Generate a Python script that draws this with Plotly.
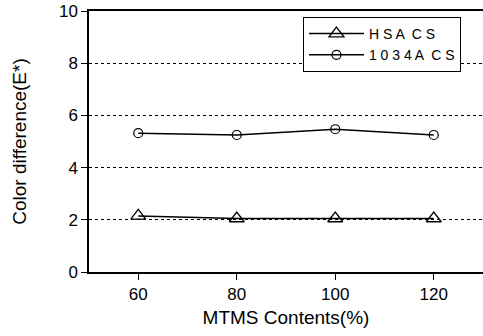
import plotly.graph_objects as go

mtms = [60, 80, 100, 120]
hsa_cs = [2.15, 2.05, 2.05, 2.05]
a1034_cs = [5.32, 5.25, 5.47, 5.25]
series_names = ["H S A \u00a0C S", "1 0 3 4 A \u00a0C S"]
x_ticks = [60, 80, 100, 120]
y_ticks = [0, 2, 4, 6, 8, 10]

fig = go.Figure()
fig.add_trace(go.Scatter(
    x=mtms, y=hsa_cs, name=series_names[0], mode="lines+markers",
    line=dict(color="black", width=1.5),
    marker=dict(symbol="triangle-up-open", size=13, color="black", line=dict(width=1.3)),
))
fig.add_trace(go.Scatter(
    x=mtms, y=a1034_cs, name=series_names[1], mode="lines+markers",
    line=dict(color="black", width=1.5),
    marker=dict(symbol="circle-open", size=9, color="black", line=dict(width=1.2)),
))

fig.update_layout(
    width=483, height=336,
    margin=dict(l=89, r=0, t=11, b=64),
    paper_bgcolor="white", plot_bgcolor="white",
    font=dict(family="Liberation Sans, Arial", size=14, color="black"),
    legend=dict(
        x=0.543, y=0.977, xanchor="left", yanchor="top",
        bordercolor="black", borderwidth=1, bgcolor="white",
        font=dict(size=14), tracegroupgap=0, itemwidth=55,
    ),
    showlegend=True,
)
fig.update_xaxes(
    range=[50, 130], tickvals=x_ticks, ticks="outside", ticklen=6,
    tickcolor="black", showline=True, linecolor="black", linewidth=1.5,
    mirror=True, showgrid=False, zeroline=False,
    title=dict(text="MTMS Contents(%)", font=dict(size=19), standoff=8),
    tickfont=dict(size=17),
)
fig.update_yaxes(
    range=[0, 10], tickvals=y_ticks, ticks="outside", ticklen=6,
    tickcolor="black", showline=True, linecolor="black", linewidth=1.5,
    mirror=False,
    showgrid=True, gridcolor="black", gridwidth=1, griddash="dot",
    zeroline=False,
    title=dict(text="Color difference(E*)", font=dict(size=19), standoff=27),
    tickfont=dict(size=17),
)

fig.write_html("out.html")
